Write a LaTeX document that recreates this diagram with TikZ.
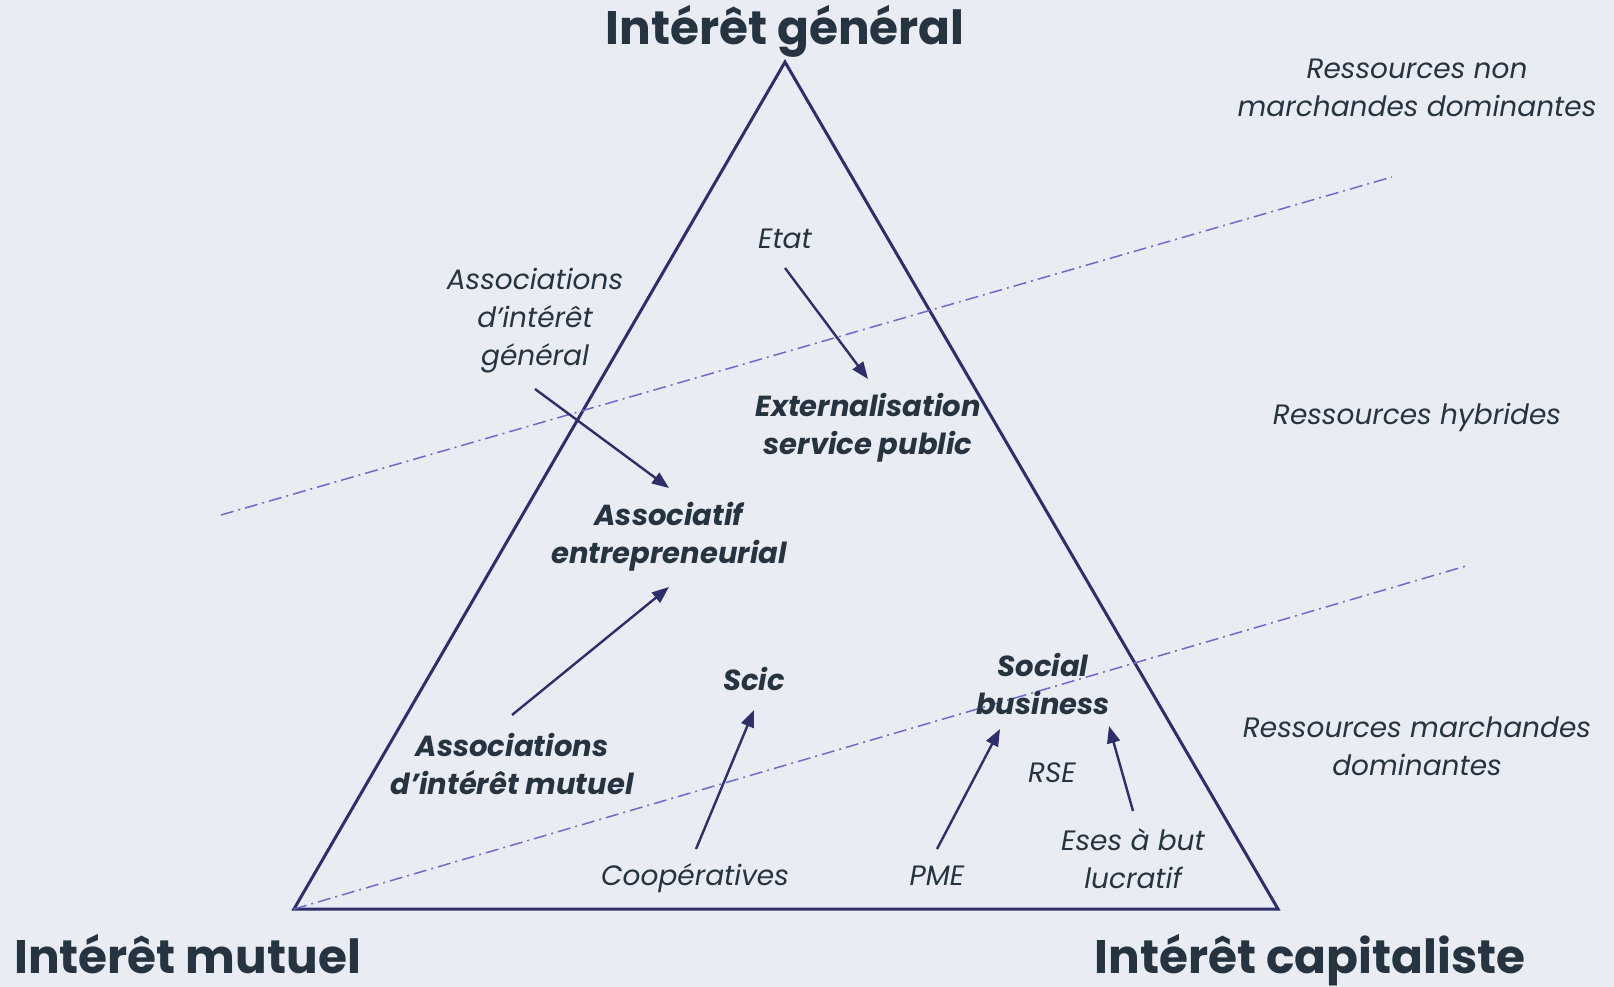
\documentclass[tikz,border=0pt]{standalone}
\usepackage{fontspec}
\setmainfont{Poppins}
\usetikzlibrary{arrows.meta}
\definecolor{bg}{HTML}{E9ECF2}
\definecolor{navy}{HTML}{2E2E6A}
\definecolor{ink}{HTML}{263340}
\definecolor{dashc}{HTML}{6B6BCB}
\tikzset{
  title/.style={font=\fontsize{47}{50}\selectfont\bfseries, text=ink, inner sep=0pt},
  lab/.style={font=\fontsize{28}{38}\selectfont\itshape, text=ink, align=center, inner sep=0pt},
  blab/.style={font=\fontsize{29}{38}\selectfont\bfseries\itshape, text=ink, align=center, inner sep=0pt},
  arr/.style={draw=navy, line width=2.4pt, -{Triangle[length=17pt,width=13pt]}},
  sep/.style={draw=dashc, line width=1.5pt, dash pattern=on 13pt off 5pt on 2pt off 5pt},
  tri/.style={draw=navy, line width=3pt, line join=miter}
}
\begin{document}
\begin{tikzpicture}[x=1pt,y=-1pt]
\fill[bg] (0,0) rectangle (1614,987);
\useasboundingbox (0,0) rectangle (1614,987);
% triangle
\coordinate (A) at (785,62);
\coordinate (B) at (294,909);
\coordinate (C) at (1278,909);
\draw[tri] (A) -- (B) -- (C) -- cycle;
% separator lines
\coordinate (s1a) at (221,515);
\coordinate (s1b) at (1392,177);
\coordinate (s2b) at (1466,566);
\draw[sep] (s1a) -- (s1b);
\draw[sep] (B) -- (s2b);
% titles
\node[title, anchor=base] (tg) at (785,45) {Intérêt général};
\node[title, anchor=base west, text depth=0pt] (tm) at (14,973) {Intérêt mutuel};
\node[title, anchor=base, text depth=10pt] (tc) at (1310,973) {Intérêt capitaliste};
% side labels
\node[lab] (r1) at (1417,88) {Ressources non\\marchandes dominantes};
\node[lab] (r2) at (1417,417) {Ressources hybrides};
\node[lab] (r3) at (1417,746) {Ressources marchandes\\dominantes};
% inner labels
\node[lab] (etat) at (785,239) {Etat};
\node[lab] (aig) at (535,321) {Associations\\d’intérêt\\général};
\node[blab] (ext) at (868,428) {Externalisation\\service public};
\node[blab] (ae) at (669,537) {Associatif\\entrepreneurial};
\node[blab] (scic) at (754,679) {Scic};
\node[blab] (sb) at (1043,684) {Social\\business};
\node[blab] (aim) at (512,764) {Associations\\d’intérêt mutuel};
\node[lab] (rse) at (1052,773) {RSE};
\node[lab] (coop) at (695,878) {Coopératives};
\node[lab] (pme) at (937,876) {PME};
\node[lab] (eses) at (1133,859) {Eses à but\\lucratif};
% arrows
\coordinate (etat1) at (785,268); \coordinate (etat2) at (868,379);
\coordinate (aig1) at (535,389); \coordinate (aig2) at (669,488);
\coordinate (aim1) at (512,715); \coordinate (aim2) at (669,587);
\coordinate (coop1) at (696,849); \coordinate (coop2) at (754,710);
\coordinate (pme1) at (937,849); \coordinate (pme2) at (1000,729);
\coordinate (eses1) at (1133,811); \coordinate (eses2) at (1109,726);
\draw[arr] (etat1) -- (etat2);
\draw[arr] (aig1) -- (aig2);
\draw[arr] (aim1) -- (aim2);
\draw[arr] (coop1) -- (coop2);
\draw[arr] (pme1) -- (pme2);
\draw[arr] (eses1) -- (eses2);
\end{tikzpicture}
\end{document}
